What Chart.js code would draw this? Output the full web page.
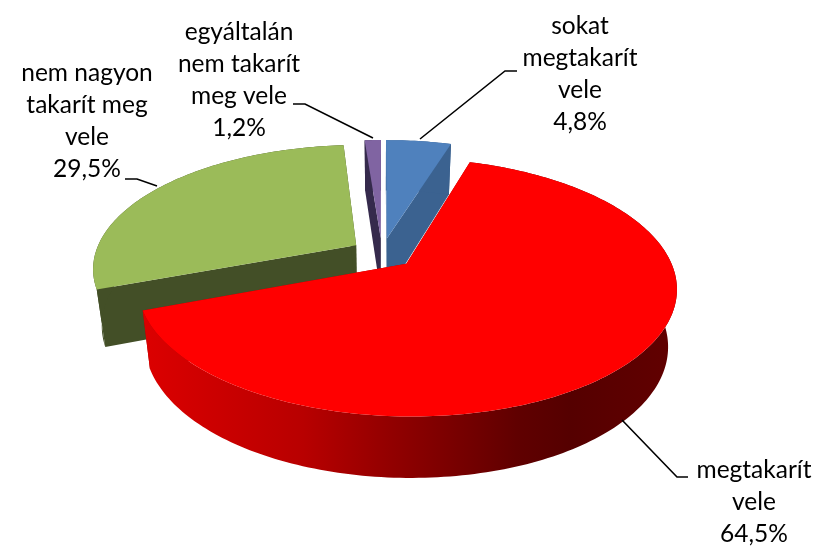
<!DOCTYPE html>
<html>
<head>
<meta charset="utf-8">
<style>
html,body{margin:0;padding:0;background:#fff}
#wrap{position:relative;width:827px;height:556px}
</style>
<script src="https://cdn.jsdelivr.net/npm/chart.js@4"></script>
</head>
<body>
<div id="wrap"><canvas id="c" width="827" height="556"></canvas></div>
<script>
const categories = ["sokat megtakarít vele", "megtakarít vele", "nem nagyon takarít meg vele", "egyáltalán nem takarít meg vele"];
const values = [4.8, 64.5, 29.5, 1.2];
const topColors = ["#4f81bd", "#ff0000", "#9bbb59", "#8064a2"];
const wallColors = ["#3b6290", "#a00000", "#434f27", "#352a4c"];
const explode = [32, 33, 31, 32];
const labelLines = [["sokat", "megtakarít", "vele"], ["megtakarít", "vele"], ["nem nagyon", "takarít meg", "vele"], ["egyáltalán", "nem takarít", "meg vele"]];
const labelAnchors = [[580, 26], [754, 470], [87, 73], [239, 32]];
const leaders = [
  [[420, 139], [505, 71], [517, 71]],
  [[622, 420], [677, 477], [688, 477]],
  [[157, 186], [137, 179], [125, 179]],
  [[373, 138], [305, 104], [293, 104]]
];

const cx = 382, cy = 253, Rx = 261, Ry = 121, P = 0.18;
function proj(u, v) { const s = 1 / (1 - P * v); return [cx + Rx * u * s, cy + Ry * v * s]; }
function base(u, v) {
  const p = proj(u, v);
  const depth = 56 + 5 * v;
  return [cx + (p[0] - cx) * 0.97, p[1] + depth];
}
function ringPts(ox, oy, a0, a1, fn) {
  const n = Math.max(2, Math.ceil((a1 - a0) / 0.02)), pts = [];
  for (let i = 0; i <= n; i++) {
    const a = a0 + (a1 - a0) * i / n;
    pts.push(fn(ox + Math.cos(a), oy + Math.sin(a)));
  }
  return pts;
}
function poly(ctx, pts, fill) {
  ctx.beginPath();
  pts.forEach((p, i) => i ? ctx.lineTo(p[0], p[1]) : ctx.moveTo(p[0], p[1]));
  ctx.closePath();
  ctx.fillStyle = fill;
  ctx.fill();
}

const pie3d = {
  id: "pie3d",
  beforeDatasetDraw(chart, args) {
    const ctx = chart.ctx;
    const arcs = args.meta.data.map((el, i) => {
      const st = el.getProps(["startAngle", "endAngle"], true);
      const mid = (st.startAngle + st.endAngle) / 2;
      const d = el.options.offset / Rx;
      return { i, a0: st.startAngle, a1: st.endAngle, ox: Math.cos(mid) * d, oy: Math.sin(mid) * d, el };
    }).sort((a, b) => a.oy - b.oy);
    ctx.save();
    arcs.forEach(s => {
      const topArc = ringPts(s.ox, s.oy, s.a0, s.a1, proj);
      const botArc = ringPts(s.ox, s.oy, s.a0, s.a1, base);
      const aT = proj(s.ox, s.oy), aB = base(s.ox, s.oy);
      const wall = wallColors[s.i];
      let outer = wall;
      if (s.i === 1) {
        outer = ctx.createLinearGradient(143, 0, 677, 0);
        outer.addColorStop(0, "#dc0000");
        outer.addColorStop(0.3, "#b80000");
        outer.addColorStop(0.45, "#950000");
        outer.addColorStop(0.7, "#600000");
        outer.addColorStop(0.8, "#550000");
        outer.addColorStop(1, "#620000");
      }
      poly(ctx, [aT, topArc[0], botArc[0], aB], wall);
      poly(ctx, [aT, topArc[topArc.length - 1], botArc[botArc.length - 1], aB], wall);
      poly(ctx, topArc.concat(botArc.slice().reverse()), outer);
      poly(ctx, [aT].concat(topArc), s.el.options.backgroundColor);
    });
    ctx.restore();
    return false;
  },
  afterDraw(chart) {
    const ctx = chart.ctx;
    ctx.save();
    ctx.strokeStyle = "#000";
    ctx.lineWidth = 1.6;
    leaders.forEach(l => {
      ctx.beginPath();
      l.forEach((p, i) => i ? ctx.lineTo(p[0], p[1]) : ctx.moveTo(p[0], p[1]));
      ctx.stroke();
    });
    ctx.fillStyle = "#000";
    ctx.font = '24.5px Lato';
    ctx.textAlign = "center";
    ctx.textBaseline = "middle";
    labelLines.forEach((lines, i) => {
      const all = lines.concat(values[i].toFixed(1).replace(".", ",") + "%");
      all.forEach((t, j) => ctx.fillText(t, labelAnchors[i][0], labelAnchors[i][1] + j * 32));
    });
    ctx.restore();
  }
};

new Chart(document.getElementById("c"), {
  type: "pie",
  data: {
    labels: categories,
    datasets: [{ data: values, backgroundColor: topColors, offset: explode, borderWidth: 0 }]
  },
  options: {
    responsive: false,
    animation: false,
    plugins: { legend: { display: false }, tooltip: { enabled: false } }
  },
  plugins: [pie3d]
});
</script>
</body>
</html>
